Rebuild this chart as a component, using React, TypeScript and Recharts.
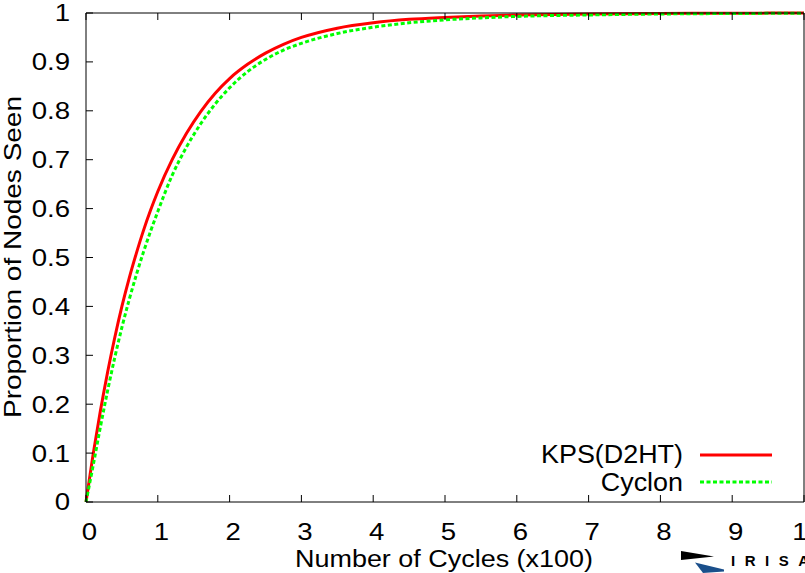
import React from "react";
import { LineChart, Line, XAxis, YAxis, Label } from "recharts";

const cycles = [0, 0.1, 0.2, 0.3, 0.4, 0.5, 0.6, 0.7, 0.8, 0.9, 1, 1.2, 1.4, 1.6, 1.8, 2, 2.25, 2.5, 2.75, 3, 3.5, 4, 4.5, 5, 5.5, 6, 7, 8, 9, 10];
const kps = [0, 0.098, 0.186, 0.265, 0.336, 0.4, 0.457, 0.508, 0.555, 0.597, 0.635, 0.7, 0.754, 0.799, 0.836, 0.866, 0.895, 0.918, 0.936, 0.95, 0.969, 0.98, 0.987, 0.991, 0.994, 0.996, 0.998, 0.999, 0.9995, 1];
const cyclon = [0, 0.075, 0.153, 0.227, 0.295, 0.357, 0.413, 0.464, 0.511, 0.554, 0.594, 0.668, 0.726, 0.774, 0.814, 0.847, 0.88, 0.905, 0.924, 0.938, 0.958, 0.971, 0.98, 0.986, 0.99, 0.993, 0.996, 0.998, 0.999, 0.9995];

const xTicks = [0, 1, 2, 3, 4, 5, 6, 7, 8, 9, 10];
const yTicks = [0, 0.1, 0.2, 0.3, 0.4, 0.5, 0.6, 0.7, 0.8, 0.9, 1];
const seriesNames = ["KPS(D2HT)", "Cyclon"];
const xTitle = "Number of Cycles (x100)";
const yTitle = "Proportion of Nodes Seen";

const data = cycles.map((c, i) => ({ cycle: c, kps: kps[i], cyclon: cyclon[i] }));

const FONT = "'Liberation Sans', Arial, Helvetica, sans-serif";
const TICK_FS = 24;
const TICK_SX = 1.15;
const TL = 7;

const fmt = (v: number) => (Math.round(v * 10) / 10).toString();

const BottomTick = (props: any) => {
  const { x, y, payload } = props;
  return (
    <g>
      <line x1={x} y1={y} x2={x} y2={y - TL} stroke="#000" strokeWidth={1} />
      <text
        transform={`translate(${x + 3.5},${y + 38}) scale(${TICK_SX},1)`}
        textAnchor="middle"
        fontFamily={FONT}
        fontSize={TICK_FS}
        fill="#000"
      >
        {payload.value}
      </text>
    </g>
  );
};

const TopTick = (props: any) => {
  const { x, y } = props;
  return <line x1={x} y1={y} x2={x} y2={y + TL} stroke="#000" strokeWidth={1} />;
};

const LeftTick = (props: any) => {
  const { x, y, payload } = props;
  return (
    <g>
      <line x1={x} y1={y} x2={x + TL} y2={y} stroke="#000" strokeWidth={1} />
      <text
        transform={`translate(${x - 16},${y}) scale(${TICK_SX},1)`}
        textAnchor="end"
        dy="0.35em"
        fontFamily={FONT}
        fontSize={TICK_FS}
        fill="#000"
      >
        {fmt(payload.value)}
      </text>
    </g>
  );
};

const RightTick = (props: any) => {
  const { x, y } = props;
  return <line x1={x} y1={y} x2={x - TL} y2={y} stroke="#000" strokeWidth={1} />;
};

export default function App() {
  return (
    <div style={{ position: "absolute", left: 0, top: 0, width: 805, height: 573, background: "#fff", overflow: "hidden" }}>
      <style>{`body{margin:0;overflow:hidden;background:#fff}`}</style>
      <LineChart
        width={805}
        height={573}
        data={data}
        margin={{ top: 12, right: 0, bottom: 70, left: 85 }}
      >
        <XAxis
          xAxisId="b"
          type="number"
          dataKey="cycle"
          domain={[0, 10]}
          ticks={xTicks}
          interval={0}
          height={1}
          tickSize={0}
          tickMargin={0}
          tickLine={false}
          axisLine={{ stroke: "#000", strokeWidth: 1 }}
          tick={<BottomTick />}
        >
          <Label
            content={() => (
              <text
                x={444}
                y={567}
                textAnchor="middle"
                fontFamily={FONT}
                fontSize={23}
                textLength={298}
                lengthAdjust="spacingAndGlyphs"
                fill="#000"
              >
                {xTitle}
              </text>
            )}
          />
        </XAxis>
        <XAxis
          xAxisId="t"
          orientation="top"
          type="number"
          dataKey="cycle"
          domain={[0, 10]}
          ticks={xTicks}
          interval={0}
          height={1}
          tickSize={0}
          tickMargin={0}
          tickLine={false}
          axisLine={{ stroke: "#000", strokeWidth: 1 }}
          tick={<TopTick />}
        />
        <YAxis
          yAxisId="l"
          type="number"
          domain={[0, 1]}
          ticks={yTicks}
          interval={0}
          width={1}
          tickSize={0}
          tickMargin={0}
          tickLine={false}
          axisLine={{ stroke: "#000", strokeWidth: 1 }}
          tick={<LeftTick />}
        >
          <Label
            content={() => (
              <text
                transform={`translate(21,257) rotate(-90)`}
                textAnchor="middle"
                fontFamily={FONT}
                fontSize={24}
                textLength={322}
                lengthAdjust="spacingAndGlyphs"
                fill="#000"
              >
                {yTitle}
              </text>
            )}
          />
        </YAxis>
        <YAxis
          yAxisId="r"
          orientation="right"
          type="number"
          domain={[0, 1]}
          ticks={yTicks}
          interval={0}
          width={1}
          tickSize={0}
          tickMargin={0}
          tickLine={false}
          axisLine={{ stroke: "#000", strokeWidth: 1 }}
          tick={<RightTick />}
        />
        <Line
          xAxisId="b"
          yAxisId="l"
          type="monotone"
          dataKey="kps"
          name={seriesNames[0]}
          stroke="#ff0000"
          strokeWidth={3}
          dot={false}
          isAnimationActive={false}
        />
        <Line
          xAxisId="b"
          yAxisId="l"
          type="monotone"
          dataKey="cyclon"
          name={seriesNames[1]}
          stroke="#00ff00"
          strokeWidth={3}
          strokeDasharray="4 2.5"
          dot={false}
          isAnimationActive={false}
        />
      </LineChart>
      <svg width={805} height={573} style={{ position: "absolute", left: 0, top: 0, pointerEvents: "none" }}>
        <g fontFamily={FONT} fontSize={25.5} fill="#000">
          <text transform="translate(683,463) scale(1.055,1)" textAnchor="end">{seriesNames[0]}</text>
          <text transform="translate(683,491) scale(1.055,1)" textAnchor="end">{seriesNames[1]}</text>
        </g>
        <line x1={700} y1={455} x2={772} y2={455} stroke="#ff0000" strokeWidth={3} />
        <line x1={700} y1={482} x2={772} y2={482} stroke="#00ff00" strokeWidth={3} strokeDasharray="4 2.5" />
        <polygon points="681,551 714,556.5 681,560" fill="#000" />
        <polygon points="695,562.5 724,569.5 724,571.5 703,573" fill="#1a4f8b" />
        <text x={731} y={566} fontFamily={FONT} fontWeight="bold" fontSize={15} letterSpacing={9.5} fill="#000">IRISA</text>
      </svg>
    </div>
  );
}
